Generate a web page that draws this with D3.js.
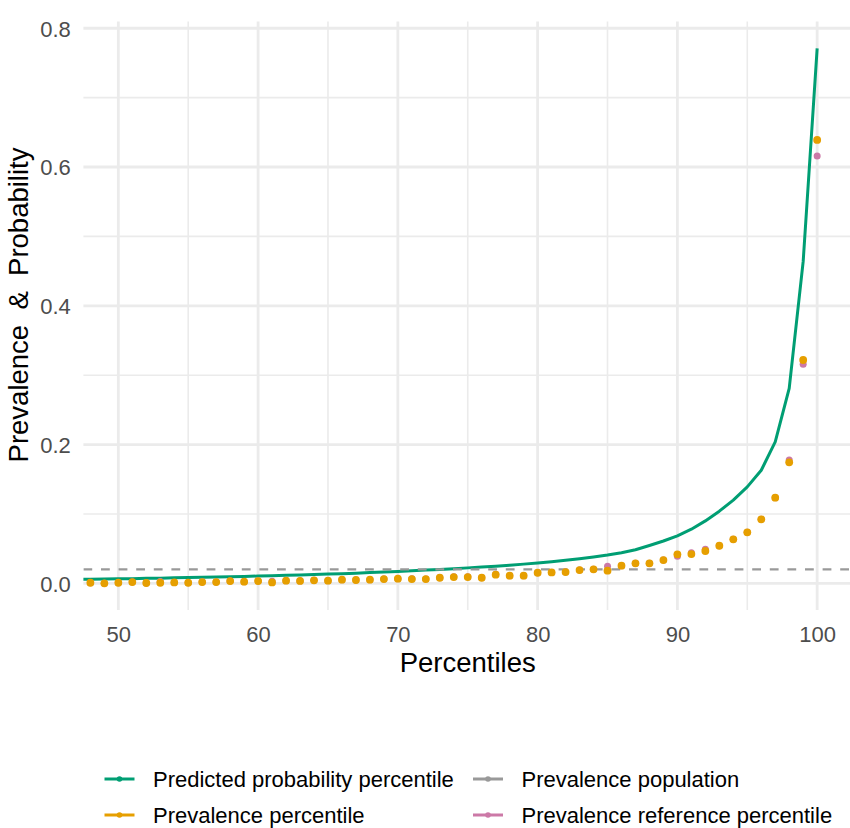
<!DOCTYPE html>
<html>
<head>
<meta charset="utf-8">
<script src="https://cdn.jsdelivr.net/npm/d3@7"></script>
<style>
  html, body { margin: 0; padding: 0; background: #ffffff; }
  svg { display: block; }
  text { font-family: "Liberation Sans", Arial, Helvetica, sans-serif; }
</style>
</head>
<body>
<svg id="chart" width="850" height="828"></svg>
<script>
// Percentile positions (the view is limited to 50–100; 47–49 fall at the left edge)
const percentiles = [47, 48, 49, 50, 51, 52, 53, 54, 55, 56, 57, 58, 59, 60, 61, 62, 63, 64, 65, 66,
  67, 68, 69, 70, 71, 72, 73, 74, 75, 76, 77, 78, 79, 80, 81, 82, 83, 84, 85, 86, 87, 88, 89, 90,
  91, 92, 93, 94, 95, 96, 97, 98, 99, 100];

// Mean predicted probability within each percentile
const predictedProbability = [0.0056, 0.0059, 0.0062, 0.0065, 0.0068, 0.0072, 0.0075, 0.0079, 0.0083,
  0.0087, 0.0091, 0.0095, 0.0100, 0.0105, 0.0110, 0.0115, 0.0121, 0.0127, 0.0133, 0.0140, 0.0147,
  0.0155, 0.0163, 0.0172, 0.0181, 0.0191, 0.0201, 0.0212, 0.0223, 0.0235, 0.0248, 0.0262, 0.0277,
  0.0294, 0.0312, 0.0332, 0.0355, 0.0380, 0.0408, 0.0442, 0.0484, 0.0545, 0.0610, 0.0685, 0.0780,
  0.0900, 0.1040, 0.1200, 0.1390, 0.1630, 0.2040, 0.2810, 0.4640, 0.7710];

// Observed prevalence within each percentile
const prevalencePercentile = [0.0010, 0.0009, 0.0000, 0.0009, 0.0019, 0.0005, 0.0009, 0.0014, 0.0009,
  0.0019, 0.0019, 0.0033, 0.0024, 0.0033, 0.0014, 0.0038, 0.0035, 0.0043, 0.0038, 0.0053, 0.0048,
  0.0053, 0.0062, 0.0067, 0.0062, 0.0062, 0.0081, 0.0091, 0.0091, 0.0081, 0.0125, 0.0110, 0.0110,
  0.0153, 0.0158, 0.0163, 0.0192, 0.0202, 0.0182, 0.0254, 0.0288, 0.0288, 0.0336, 0.0418, 0.0422,
  0.0466, 0.0542, 0.0634, 0.0735, 0.0922, 0.1234, 0.1744, 0.3219, 0.6390];

// Prevalence within each percentile of the reference model
const prevalenceReference = [0.0010, 0.0009, 0.0000, 0.0009, 0.0019, 0.0005, 0.0025, 0.0014, 0.0009,
  0.0019, 0.0019, 0.0033, 0.0024, 0.0033, 0.0030, 0.0038, 0.0035, 0.0043, 0.0038, 0.0053, 0.0048,
  0.0053, 0.0062, 0.0067, 0.0067, 0.0062, 0.0081, 0.0095, 0.0095, 0.0081, 0.0130, 0.0110, 0.0110,
  0.0153, 0.0158, 0.0163, 0.0192, 0.0202, 0.0245, 0.0254, 0.0288, 0.0288, 0.0336, 0.0390, 0.0440,
  0.0490, 0.0542, 0.0634, 0.0735, 0.0922, 0.1234, 0.1777, 0.3157, 0.6160];

// Overall prevalence in the population
const prevalencePopulation = 0.0202;

const xLimits = [50, 100];
const xMajorTicks = [50, 60, 70, 80, 90, 100];
const xMinorTicks = [55, 65, 75, 85, 95];
const yMajorTicks = [0, 0.2, 0.4, 0.6, 0.8];
const yMinorTicks = [0.1, 0.3, 0.5, 0.7];

const legendLabels = ["Predicted probability percentile", "Prevalence percentile",
  "Prevalence population", "Prevalence reference percentile"];
const colors = {
  predicted: "#009E73",
  prevalence: "#E69F00",
  population: "#999999",
  reference: "#CC79A7"
};

// ---- layout ----
const panel = { left: 83.4, right: 852.1, top: 21.6, bottom: 610.1 };
const tickFont = 22, titleFont = 27.5;

const xSpan = xLimits[1] - xLimits[0];
const x = d3.scaleLinear()
  .domain([xLimits[0] - 0.05 * xSpan, xLimits[1] + 0.05 * xSpan])
  .range([panel.left, panel.right]);

const allY = predictedProbability.concat(prevalencePercentile, prevalenceReference, [prevalencePopulation]);
const yMin = d3.min(allY), yMax = d3.max(allY);
const ySpan = yMax - yMin;
const y = d3.scaleLinear()
  .domain([yMin - 0.05 * ySpan, yMax + 0.05 * ySpan])
  .range([panel.bottom, panel.top]);

const svg = d3.select("#chart");

svg.append("defs").append("clipPath").attr("id", "panel-clip")
  .append("rect")
  .attr("x", panel.left).attr("y", panel.top)
  .attr("width", panel.right - panel.left).attr("height", panel.bottom - panel.top);

// ---- grid ----
const grid = svg.append("g").attr("class", "grid");
grid.selectAll("line.ymin").data(yMinorTicks).join("line")
  .attr("x1", panel.left).attr("x2", panel.right)
  .attr("y1", d => y(d)).attr("y2", d => y(d))
  .attr("stroke", "#EBEBEB").attr("stroke-width", 1.6);
grid.selectAll("line.xmin").data(xMinorTicks).join("line")
  .attr("y1", panel.top).attr("y2", panel.bottom)
  .attr("x1", d => x(d)).attr("x2", d => x(d))
  .attr("stroke", "#EBEBEB").attr("stroke-width", 1.6);
grid.selectAll("line.ymaj").data(yMajorTicks).join("line")
  .attr("x1", panel.left).attr("x2", panel.right)
  .attr("y1", d => y(d)).attr("y2", d => y(d))
  .attr("stroke", "#EBEBEB").attr("stroke-width", 2.8);
grid.selectAll("line.xmaj").data(xMajorTicks).join("line")
  .attr("y1", panel.top).attr("y2", panel.bottom)
  .attr("x1", d => x(d)).attr("x2", d => x(d))
  .attr("stroke", "#EBEBEB").attr("stroke-width", 2.8);

// ---- data layers ----
const plot = svg.append("g").attr("clip-path", "url(#panel-clip)");

const rows = percentiles.map((p, i) => ({
  p, pred: predictedProbability[i], prev: prevalencePercentile[i], ref: prevalenceReference[i]
}));

plot.append("path")
  .datum(rows)
  .attr("fill", "none")
  .attr("stroke", colors.predicted)
  .attr("stroke-width", 3)
  .attr("stroke-linejoin", "round")
  .attr("d", d3.line().x(d => x(d.p)).y(d => y(d.pred)));

plot.append("line")
  .attr("x1", panel.left).attr("x2", panel.right)
  .attr("y1", y(prevalencePopulation)).attr("y2", y(prevalencePopulation))
  .attr("stroke", colors.population)
  .attr("stroke-width", 2.2)
  .attr("stroke-dasharray", "8.8,8.8");

plot.selectAll("circle.ref").data(rows).join("circle")
  .attr("class", "ref")
  .attr("cx", d => x(d.p)).attr("cy", d => y(d.ref))
  .attr("r", 3.5)
  .attr("fill", colors.reference);

plot.selectAll("circle.prev").data(rows).join("circle")
  .attr("class", "prev")
  .attr("cx", d => x(d.p)).attr("cy", d => y(d.prev))
  .attr("r", 3.9)
  .attr("fill", colors.prevalence);

// ---- axes (text only, no axis lines) ----
const xAxis = d3.axisBottom(x).tickValues(xMajorTicks).tickSize(0).tickPadding(0);
const gx = svg.append("g").attr("transform", `translate(0,${panel.bottom})`).call(xAxis);
gx.select(".domain").remove();
gx.selectAll("text")
  .attr("y", 31.6).attr("dy", null)
  .attr("fill", "#4D4D4D")
  .style("font-size", tickFont + "px")
  .style("font-family", "'Liberation Sans', Arial, sans-serif");

const yAxis = d3.axisLeft(y).tickValues(yMajorTicks).tickFormat(d3.format(".1f")).tickSize(0).tickPadding(0);
const gy = svg.append("g").attr("transform", `translate(70.8,0)`).call(yAxis);
gy.select(".domain").remove();
gy.selectAll("text")
  .attr("x", 0).attr("dy", "0.36em")
  .attr("fill", "#4D4D4D")
  .style("font-size", tickFont + "px")
  .style("font-family", "'Liberation Sans', Arial, sans-serif");

svg.append("text")
  .attr("x", (panel.left + panel.right) / 2)
  .attr("y", 672)
  .attr("text-anchor", "middle")
  .attr("fill", "#000")
  .style("font-size", titleFont + "px")
  .text("Percentiles");

svg.append("text")
  .attr("transform", `translate(28,305) rotate(-90)`)
  .attr("text-anchor", "middle")
  .attr("fill", "#000")
  .style("font-size", titleFont + "px")
  .style("white-space", "pre")
  .text("Prevalence  &  Probability");

// ---- legend ----
const legendItems = [
  { label: legendLabels[0], color: colors.predicted, col: 0, row: 0 },
  { label: legendLabels[1], color: colors.prevalence, col: 0, row: 1 },
  { label: legendLabels[2], color: colors.population, col: 1, row: 0 },
  { label: legendLabels[3], color: colors.reference, col: 1, row: 1 }
];
const colX = [104.5, 473];
const rowY = [779, 815];
const legend = svg.append("g").attr("class", "legend");
const item = legend.selectAll("g").data(legendItems).join("g")
  .attr("transform", d => `translate(${colX[d.col]},${rowY[d.row]})`);
item.append("line")
  .attr("x1", 0).attr("x2", 30).attr("y1", 0).attr("y2", 0)
  .attr("stroke", d => d.color).attr("stroke-width", 3);
item.append("circle")
  .attr("cx", 15).attr("cy", 0).attr("r", 2.8)
  .attr("fill", d => d.color);
item.append("text")
  .attr("x", 48.5).attr("y", 0).attr("dy", "0.36em")
  .attr("fill", "#000")
  .style("font-size", tickFont + "px")
  .text(d => d.label);
</script>
</body>
</html>
